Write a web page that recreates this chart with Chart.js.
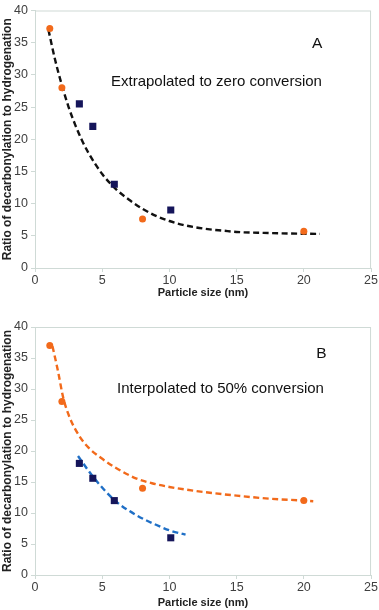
<!DOCTYPE html>
<html lang="en">
<head>
  <meta charset="UTF-8">
  <title>Decarbonylation ratio vs particle size</title>
  <script src="https://cdn.jsdelivr.net/npm/chart.js@4.4.1/dist/chart.umd.min.js"></script>
  <style>
    body { margin: 0; background: #fff; }
    .box { position: absolute; left: 0; width: 379px; height: 305px; }
  </style>
</head>
<body>
  <div class="box" style="top:0"><canvas id="chartA" width="379" height="305"></canvas></div>
  <div class="box" style="top:305px"><canvas id="chartB" width="379" height="305"></canvas></div>

  <script>
    // panel A - extrapolated to zero conversion
    const aCircles = [{x: 1.1, y: 37.2}, {x: 2, y: 28}, {x: 8, y: 7.6}, {x: 20, y: 5.7}];
    const aSquares = [{x: 3.3, y: 25.5}, {x: 4.3, y: 22}, {x: 5.9, y: 13}, {x: 10.1, y: 9}];
    const aTrend = [
      {x: 1, y: 37}, {x: 1.5, y: 32.3}, {x: 2, y: 28.4}, {x: 2.5, y: 25}, {x: 3, y: 22.2},
      {x: 3.5, y: 19.8}, {x: 4, y: 17.8}, {x: 5, y: 14.6}, {x: 6, y: 12.3}, {x: 7, y: 10.6},
      {x: 8, y: 9.2}, {x: 9, y: 8.1}, {x: 10, y: 7.3}, {x: 11, y: 6.7}, {x: 12, y: 6.3},
      {x: 13, y: 6.0}, {x: 14, y: 5.8}, {x: 15, y: 5.6}, {x: 17, y: 5.45}, {x: 19, y: 5.35}, {x: 21.2, y: 5.3}
    ];

    // panel B - interpolated to 50% conversion
    const bCircles = [{x: 1.1, y: 37}, {x: 2, y: 28}, {x: 8, y: 14}, {x: 20, y: 12}];
    const bSquares = [{x: 3.3, y: 18}, {x: 4.3, y: 15.6}, {x: 5.9, y: 12}, {x: 10.1, y: 6}];
    const bTrendOrange = [
      {x: 1.3, y: 36.9}, {x: 1.7, y: 33}, {x: 2.1, y: 28.6}, {x: 2.6, y: 25.3}, {x: 3.3, y: 22.4},
      {x: 4, y: 20.5}, {x: 4.9, y: 18.9}, {x: 6, y: 17.3}, {x: 7.5, y: 15.6}, {x: 8.7, y: 14.8},
      {x: 10, y: 14.2}, {x: 12.5, y: 13.4}, {x: 15, y: 12.8}, {x: 17.5, y: 12.3}, {x: 20, y: 12}, {x: 20.7, y: 11.9}
    ];
    const bTrendBlue = [
      {x: 3.2, y: 19.2}, {x: 4.3, y: 15.9}, {x: 5.9, y: 12.1}, {x: 7.5, y: 9.7},
      {x: 9, y: 8.1}, {x: 10, y: 7.2}, {x: 11.2, y: 6.5}
    ];

    const xTicks = [0, 5, 10, 15, 20, 25];
    const yTicks = [0, 5, 10, 15, 20, 25, 30, 35, 40];

    const orange = '#f26a1b';
    const navy = '#15155a';
    const blue = '#1f6fc6';
    const frame = '#cfdad6';

    Chart.defaults.font.family = '"Liberation Sans", Arial, sans-serif';
    Chart.defaults.color = '#404040';

    // plot frame and the text labels inside the plot
    const framePlugin = {
      id: 'framePlugin',
      beforeDatasetsDraw(chart, args, opts) {
        const a = chart.chartArea;
        const c = chart.ctx;
        c.save();
        c.strokeStyle = frame;
        c.lineWidth = 1;
        c.strokeRect(a.left + 0.5, a.top + 0.5, a.right - a.left - 1, a.bottom - a.top);
        c.restore();
      },
      afterDatasetsDraw(chart, args, opts) {
        const c = chart.ctx;
        const xs = chart.scales.x, ys = chart.scales.y;
        c.save();
        c.fillStyle = '#111';
        c.textAlign = 'center';
        c.textBaseline = 'middle';
        c.font = '15.5px "Liberation Sans", Arial, sans-serif';
        c.fillText(opts.letter, xs.getPixelForValue(opts.letterX), ys.getPixelForValue(opts.letterY));
        c.font = '15px "Liberation Sans", Arial, sans-serif';
        c.fillText(opts.note, xs.getPixelForValue(opts.noteX), ys.getPixelForValue(opts.noteY));
        c.restore();
      }
    };

    function scatterSet(data, color, shape, size) {
      return {
        type: 'scatter', data: data, backgroundColor: color, borderColor: color,
        pointStyle: shape, pointRadius: size, borderWidth: 0, order: 1
      };
    }

    function trendSet(data, color) {
      return {
        type: 'line', data: data, borderColor: color, borderWidth: 2.4,
        borderDash: [6, 3.5], pointRadius: 0, fill: false,
        cubicInterpolationMode: 'monotone', order: 2
      };
    }

    function makeChart(id, datasets, notes, pad, xH) {
      return new Chart(document.getElementById(id), {
        data: { datasets: datasets },
        plugins: [framePlugin],
        options: {
          responsive: false,
          animation: false,
          layout: { padding: pad },
          plugins: { legend: { display: false }, tooltip: { enabled: false }, framePlugin: notes },
          scales: {
            x: {
              type: 'linear', min: 0, max: 25,
              afterBuildTicks: s => { s.ticks = xTicks.map(v => ({ value: v })); },
              afterFit: s => { s.height = xH; },
              ticks: { font: { size: 12.5 }, padding: 1 },
              grid: { drawOnChartArea: false, color: frame, tickLength: 4 },
              border: { color: frame },
              title: { display: true, text: 'Particle size (nm)', color: '#222', font: { size: 11, weight: 'bold' }, padding: { top: 0, bottom: 0 } }
            },
            y: {
              type: 'linear', min: 0, max: 40,
              afterBuildTicks: s => { s.ticks = yTicks.map(v => ({ value: v })); },
              afterFit: s => { s.width = 35; },
              ticks: { font: { size: 12.5 }, padding: 3 },
              grid: { drawOnChartArea: false, color: frame, tickLength: 4 },
              border: { color: frame },
              title: { display: true, text: 'Ratio of decarbonylation to hydrogenation', color: '#222', font: { size: 12, weight: 'bold' }, padding: { top: 0, bottom: 2 } }
            }
          }
        }
      });
    }

    makeChart('chartA', [
      trendSet(aTrend, '#111'),
      scatterSet(aCircles, orange, 'circle', 3.5),
      scatterSet(aSquares, navy, 'rect', 5)
    ], { letter: 'A', letterX: 21, letterY: 34.9, note: 'Extrapolated to zero conversion', noteX: 13.5, noteY: 28.9 },
    { top: 5, right: 7, left: 0, bottom: 5 }, 32);

    makeChart('chartB', [
      trendSet(bTrendOrange, orange),
      trendSet(bTrendBlue, blue),
      scatterSet(bCircles, orange, 'circle', 3.5),
      scatterSet(bSquares, navy, 'rect', 5)
    ], { letter: 'B', letterX: 21.3, letterY: 35.7, note: 'Interpolated to 50% conversion', noteX: 13.8, noteY: 30.1 },
    { top: 22, right: 7, left: 0, bottom: 0 }, 35);
  </script>
</body>
</html>
